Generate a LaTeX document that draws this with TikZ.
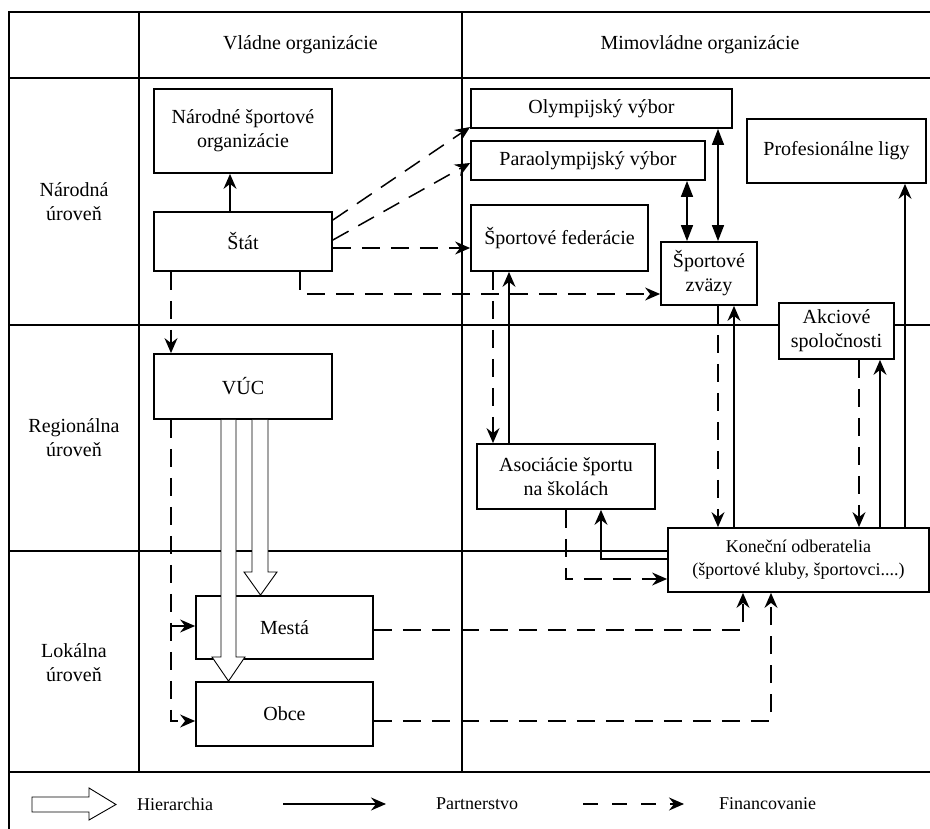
\documentclass[tikz,border=0pt]{standalone}
\usepackage{fontspec}
\setmainfont{Liberation Serif}
\usetikzlibrary{arrows.meta}
\begin{document}
\begin{tikzpicture}[x=1pt,y=-1pt,
  grid/.style={line width=1.8pt},
  box/.style={draw, line width=1.8pt, fill=white, inner sep=0pt, align=center,
    font=\fontsize{20}{24}\selectfont},
  lbl/.style={align=center, inner sep=0pt, font=\fontsize{20}{24}\selectfont},
  legtext/.style={anchor=west, inner sep=0pt, font=\fontsize{18}{22}\selectfont},
  >={Stealth[length=15pt,width=13pt,inset=5pt]},
  part/.style={->, line width=1.5pt},
  fin/.style={->, line width=1.5pt, dash pattern=on 18pt off 11pt},
  both/.style={{Triangle[length=16pt,width=12pt]}-{Triangle[length=16pt,width=12pt]}, line width=1.5pt},
  hier/.style={draw, fill=white, line width=0.9pt, line join=miter},
]
\useasboundingbox (0,0) rectangle (930,829);
\clip (0,0) rectangle (930,829);
\fill[white] (0,0) rectangle (930,829);

% table frame
\draw[grid] (9,845) -- (9,12) -- (945,12);
\foreach \yy in {78,325,551,772} \draw[grid] (9,\yy) -- (945,\yy);
\draw[grid] (139,12) -- (139,772);
\draw[grid] (462,12) -- (462,772);

% column and row headings
\node[lbl] (hgov) at (300.5,45) {Vládne organizácie};
\node[lbl] (hngo) at (700,45) {Mimovládne organizácie};
\node[lbl] (lnat) at (74,202) {Národná\\úroveň};
\node[lbl] (lreg) at (74,438) {Regionálna\\úroveň};
\node[lbl] (lloc) at (74,663) {Lokálna\\úroveň};

% government side
\node[box, minimum width=178pt, minimum height=84pt] (nso) at (243,131) {Národné športové\\organizácie};
\node[box, minimum width=178pt, minimum height=59pt] (stat) at (243,241.5) {Štát};
\node[box, minimum width=178pt, minimum height=65pt] (vuc) at (243,386.5) {VÚC};
\node[box, minimum width=177pt, minimum height=63pt] (mesta) at (284.5,627.5) {Mestá};
\node[box, minimum width=177pt, minimum height=64pt] (obce) at (284.5,714) {Obce};

% non-government side
\node[box, minimum width=261pt, minimum height=39pt] (olymp) at (601.5,108.5) {Olympijský výbor};
\node[box, minimum width=234pt, minimum height=39pt] (para) at (588,160.5) {Paraolympijský výbor};
\node[box, minimum width=177pt, minimum height=66pt] (fed) at (559.5,238) {Športové federácie};
\node[box, minimum width=96pt, minimum height=63pt] (zvazy) at (709,273.5) {Športové\\zväzy};
\node[box, minimum width=179pt, minimum height=64pt] (prof) at (836.5,151) {Profesionálne ligy};
\node[box, minimum width=115pt, minimum height=56pt] (akc) at (836.5,331) {Akciové\\spoločnosti};
\node[box, minimum width=178pt, minimum height=65pt] (asoc) at (566,476.5) {Asociácie športu\\na školách};
\node[box, minimum width=261pt, minimum height=64pt, font=\fontsize{18}{23}\selectfont] (kon) at (798.5,560) {Koneční odberatelia\\(športové kluby, športovci....)};

% hierarchy (hollow arrows)
\draw[hier] (252,0 |- vuc.south) -- (252,572) -- (244,572) -- (260.5,0 |- mesta.north)
  -- (277,572) -- (268,572) -- (268,0 |- vuc.south);
\draw[hier] (221,0 |- vuc.south) -- (221,657) -- (212,657) -- (228.5,0 |- obce.north)
  -- (245,657) -- (236,657) -- (236,0 |- vuc.south);

% state links
\draw[part] (230,0 |- stat.north) -- (230,0 |- nso.south);
\draw[fin] (stat.east |- 0,220) -- (olymp.west |- 0,127);
\draw[fin] (stat.east |- 0,240) -- (para.west |- 0,163);
\draw[fin] (stat.east |- 0,248) -- (fed.west |- 0,248);
\draw[fin] (300,0 |- stat.south) |- (zvazy.west |- 0,294);
\draw[fin] (171,0 |- stat.south) -- (171,0 |- vuc.north);
\draw[fin] (171,0 |- vuc.south) |- (obce.west |- 0,721);
\coordinate (vbranch) at (171,626);
\draw[fin] (vbranch) -- (mesta.west |- vbranch);

% committees, federations, unions
\draw[both] (para.south -| 687,0) -- (zvazy.north -| 687,0);
\draw[both] (olymp.south -| 718,0) -- (zvazy.north -| 718,0);
\draw[fin] (fed.south -| 493,0) -- (asoc.north -| 493,0);
\draw[part] (asoc.north -| 509,0) -- (fed.south -| 509,0);
\draw[fin] (zvazy.south -| 718,0) -- (kon.north -| 718,0);
\draw[part] (kon.north -| 734,0) -- (zvazy.south -| 734,0);
\draw[fin] (akc.south -| 859,0) -- (kon.north -| 859,0);
\draw[part] (kon.north -| 880,0) -- (akc.south -| 880,0);
\draw[part] (kon.north -| 905,0) -- (prof.south -| 905,0);
\draw[part] (kon.west |- 0,559) -| (asoc.south -| 601,0);
\draw[fin] (asoc.south -| 566,0) |- (kon.west |- 0,579);

% local funding
\draw[fin] (mesta.east |- 0,630) -| (kon.south -| 743,0);
\draw[fin] (obce.east |- 0,721) -| (kon.south -| 771,0);

% legend
\draw[hier] (32,797) -- (89,797) -- (89,788) -- (116,804.5) -- (89,820) -- (89,812) -- (32,812) -- cycle;
\node[legtext] (th) at (137,804) {Hierarchia};
\coordinate (pa) at (283,804);
\coordinate (pb) at (386,804);
\draw[part] (pa) -- (pb);
\node[legtext] (tp) at (436,804) {Partnerstvo};
\coordinate (fa) at (583,804);
\coordinate (fb) at (684,804);
\draw[fin, dash pattern=on 15pt off 14pt] (fa) -- (fb);
\node[legtext] (tf) at (719,804) {Financovanie};
\end{tikzpicture}
\end{document}
